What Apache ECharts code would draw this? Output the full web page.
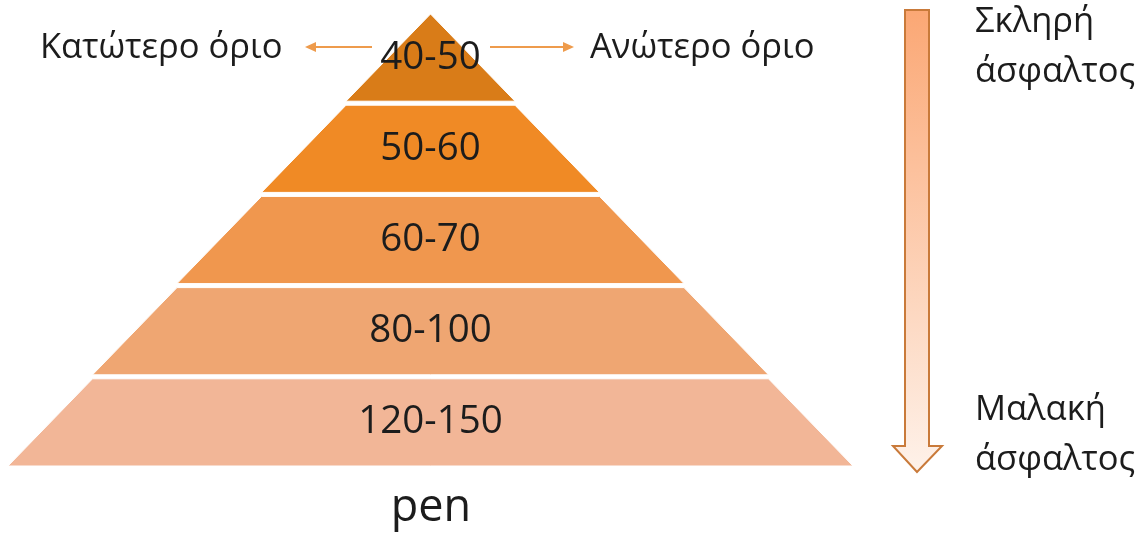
<!DOCTYPE html>
<html>
<head>
<meta charset="utf-8">
<script src="https://cdn.jsdelivr.net/npm/echarts@6/dist/echarts.min.js"></script>
<style>
html,body{margin:0;padding:0;background:#fff;}
#chart{width:1143px;height:533px;}
</style>
</head>
<body>
<div id="chart"></div>
<script>
// Pyramid layers, top to bottom
const gradeLabels = ['40-50', '50-60', '60-70', '80-100', '120-150'];
const layerWidths = [20, 40, 60, 80, 100];
const layerColors = ['#D97C18', '#F08A25', '#F0974E', '#EFA672', '#F2B697'];
const axisTitle = 'pen';
const lowerLimitText = 'Κατώτερο όριο';
const upperLimitText = 'Ανώτερο όριο';
const hardText = ['Σκληρή', 'άσφαλτος'];
const softText = ['Μαλακή', 'άσφαλτος'];

const FONT = '"Open Sans", "Noto Sans", sans-serif';
const chart = echarts.init(document.getElementById('chart'), null, {renderer: 'canvas'});

const data = gradeLabels.map((g, i) => ({
  name: g,
  value: layerWidths[i],
  itemStyle: {color: layerColors[i]},
  label: i === 0 ? {offset: [0, -4]} : undefined
}));

const arrowColor = '#EE9B4C';
const textColor = '#1c1c1c';
const option = {
  backgroundColor: '#fff',
  animation: false,
  series: [{
    type: 'funnel',
    left: 8,
    top: 14,
    width: 845,
    height: 452,
    min: 0,
    max: 100,
    minSize: '0%',
    maxSize: '100%',
    sort: 'ascending',
    gap: 4,
    label: {
      show: true,
      position: 'inside',
      color: textColor,
      fontFamily: FONT,
      fontSize: 38.5,
      formatter: '{b}'
    },
    labelLine: {show: false},
    itemStyle: {borderColor: '#fff', borderWidth: 1},
    emphasis: {disabled: true},
    data: data
  }],
  graphic: [
    // horizontal arrows
    {type: 'line', shape: {x1: 314, y1: 47, x2: 372, y2: 47}, style: {stroke: arrowColor, lineWidth: 2}},
    {type: 'polygon', shape: {points: [[305, 47], [316, 42], [316, 52]]}, style: {fill: arrowColor}},
    {type: 'line', shape: {x1: 490, y1: 47, x2: 564, y2: 47}, style: {stroke: arrowColor, lineWidth: 2}},
    {type: 'polygon', shape: {points: [[574, 47], [563, 42], [563, 52]]}, style: {fill: arrowColor}},
    {type: 'text', x: 40, y: 48, style: {text: lowerLimitText, font: '34.5px ' + FONT, fill: textColor, verticalAlign: 'middle'}},
    {type: 'text', x: 590, y: 48, style: {text: upperLimitText, font: '34.5px ' + FONT, fill: textColor, verticalAlign: 'middle'}},
    // vertical arrow
    {type: 'polygon',
     shape: {points: [[905, 10], [929, 10], [929, 446], [942, 446], [917, 472], [893, 446], [905, 446]]},
     style: {
       fill: new echarts.graphic.LinearGradient(0, 0, 0, 1, [
         {offset: 0, color: '#FBA774'},
         {offset: 1, color: '#FEF2EA'}
       ]),
       stroke: '#C97A3A', lineWidth: 2
     }},
    {type: 'text', x: 975, y: 22, style: {text: hardText[0], font: '34.5px ' + FONT, fill: textColor, verticalAlign: 'middle'}},
    {type: 'text', x: 975, y: 72, style: {text: hardText[1], font: '34.5px ' + FONT, fill: textColor, verticalAlign: 'middle'}},
    {type: 'text', x: 975, y: 410, style: {text: softText[0], font: '34.5px ' + FONT, fill: textColor, verticalAlign: 'middle'}},
    {type: 'text', x: 975, y: 460, style: {text: softText[1], font: '34.5px ' + FONT, fill: textColor, verticalAlign: 'middle'}},
    {type: 'text', x: 431, y: 508, style: {text: axisTitle, font: '45px ' + FONT, fill: textColor, align: 'center', verticalAlign: 'middle'}}
  ]
};
chart.setOption(option);
</script>
</body>
</html>
